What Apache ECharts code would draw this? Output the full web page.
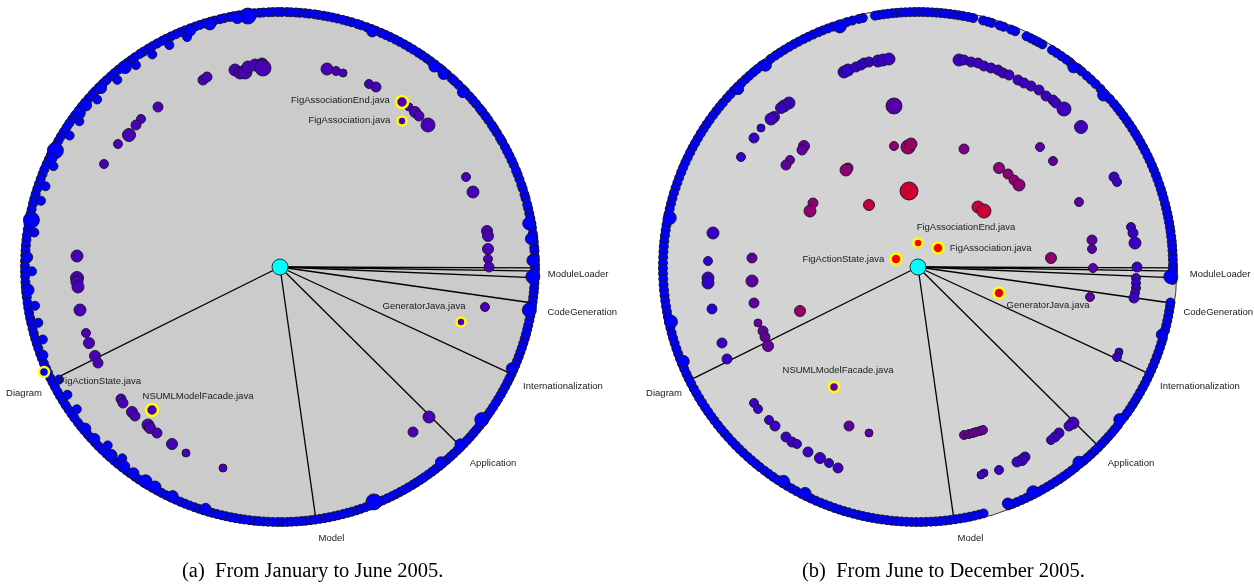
<!DOCTYPE html>
<html>
<head>
<meta charset="utf-8">
<script src="https://cdn.jsdelivr.net/npm/echarts@6/dist/echarts.min.js"></script>
<style>
  html, body { margin: 0; padding: 0; background: #fff; }
  #chart { width: 1254px; height: 588px; }
</style>
</head>
<body>
<div id="chart"></div>
<script>
// ---- package spokes (shared by both snapshots) ----
const spokeNames = ['ModuleLoader', 'CodeGeneration', 'Internationalization', 'Application', 'Model', 'Diagram'];
// direction of each package spoke in degrees, counter-clockwise from east (ModuleLoader has three)
const spokeAngles = [[359.8, 359.1, 357.6], [351.9], [335.2], [315.2], [278.1], [206.4]];

const captions = ['(a)  From January to June 2005.', '(b)  From June to December 2005.'];

// ---- snapshot (a): files resting on the boundary, by angle ----
const rimA = [0.4, 1.5, 2.3, 3.6, 4.4, 5.7, 6.8, 7.5, 8.9, 9.8, 11.0, 12.1, 13.3, 14.2, 15.6, 16.5, 17.9, 18.8, 20.1, 21.3, 22.2, 23.6, 24.7, 25.9, 27.0, 28.1, 29.5, 30.4, 31.8, 32.9, 33.8, 35.2, 36.3, 37.5, 38.4, 39.8, 40.9, 42.0, 43.4, 44.2, 45.6, 46.8, 47.7, 49.1, 50.3, 51.2, 52.6, 53.8, 54.9, 56.1, 57.2, 58.5, 59.6, 60.8, 62.0, 63.1, 64.4, 65.5, 66.6, 67.9, 69.0, 70.1, 71.4, 72.3, 73.7, 74.8, 75.8, 77.0, 78.1, 79.2, 80.2, 81.3, 82.2, 83.4, 84.3, 85.5, 86.4, 87.5, 88.4, 89.6, 90.5, 91.6, 92.5, 93.7, 94.6, 95.8, 96.9, 98.1, 99.2, 100.5, 101.4, 102.7, 103.6, 104.9, 105.8, 107.2, 108.3, 109.4, 110.6, 111.9, 113.0, 114.1, 115.3, 116.6, 117.5, 118.8, 120.0, 121.1, 122.4, 123.3, 124.7, 125.8, 126.9, 128.2, 129.3, 130.5, 131.6, 132.9, 134.0, 135.2, 136.4, 137.3, 138.6, 139.8, 141.0, 142.1, 143.4, 144.5, 145.7, 146.8, 148.0, 149.2, 150.3, 151.5, 152.8, 153.9, 155.0, 156.2, 157.5, 158.6, 159.8, 161.0, 162.1, 163.4, 164.5, 165.6, 166.9, 168.0, 169.3, 170.4, 171.5, 172.8, 173.9, 175.1, 176.3, 177.4, 178.6, 179.8, 181.0, 182.1, 183.4, 184.5, 185.7, 186.8, 188.1, 189.2, 190.4, 191.6, 192.7, 194.0, 195.1, 196.3, 197.5, 198.6, 199.9, 201.0, 202.2, 203.4, 204.5, 205.8, 206.9, 208.1, 209.3, 210.4, 211.7, 212.8, 214.0, 215.2, 216.3, 217.6, 218.7, 219.9, 221.1, 222.2, 223.5, 224.6, 225.8, 227.0, 228.1, 229.4, 230.5, 231.7, 232.9, 234.0, 235.3, 236.4, 237.6, 238.8, 239.9, 241.2, 242.3, 243.5, 244.7, 245.8, 247.0, 248.1, 249.2, 250.4, 251.4, 252.5, 253.6, 254.6, 255.7, 256.8, 257.8, 258.9, 259.9, 261.0, 262.0, 263.1, 264.2, 265.2, 266.3, 267.3, 268.4, 269.5, 270.5, 271.6, 272.6, 273.7, 274.8, 275.8, 276.9, 277.9, 279.0, 280.1, 281.1, 282.2, 283.2, 284.3, 285.4, 286.4, 287.5, 288.5, 289.6, 290.7, 291.7, 292.8, 293.8, 294.9, 296.0, 297.0, 298.1, 299.1, 300.2, 301.3, 302.3, 303.4, 304.4, 305.5, 306.6, 307.6, 308.7, 309.7, 310.8, 311.9, 312.9, 314.0, 315.0, 316.1, 317.2, 318.2, 319.3, 320.3, 321.4, 322.5, 323.5, 324.6, 325.6, 326.7, 327.8, 328.8, 329.9, 330.9, 332.0, 333.1, 334.1, 335.2, 336.2, 337.3, 338.4, 339.4, 340.5, 341.5, 342.6, 343.7, 344.7, 345.8, 346.8, 347.9, 349.0, 350.0, 351.1, 352.1, 353.2, 354.3, 355.3, 356.4, 357.4, 358.5, 359.5];
// boundary files sitting a little inside the edge
const rimAInset = [112, 116.5, 121, 125.5, 131, 137.5, 144, 148, 156, 161, 164.5, 172, 181, 189, 193, 197, 207, 211, 215, 226, 230.5];
// heavier boundary files: [angle, weight]
const rimABig = [[1.5, 3], [6.4, 3], [9.9, 3.5], [43.7, 2.5], [49.7, 2.5], [52.4, 2.5], [68.6, 2.5], [97.3, 5], [99.7, 3], [106.1, 3], [110.8, 2.5], [127.8, 3.5], [135, 2.5], [140.2, 3], [142.5, 3], [152.6, 5], [154.5, 2.5], [169.3, 5], [177.8, 2.5], [185.2, 3], [200.4, 2], [219.7, 2.5], [222.8, 2.5], [228.1, 3], [232, 2.5], [234.6, 2.5], [237.9, 3.5], [240.4, 3], [244.9, 2.5], [252.9, 2.5], [291.8, 5], [309.5, 2.5], [315.5, 2.5], [322.9, 4], [336.4, 2.5], [350.2, 4], [357.8, 4]];
// active files: [x, y, weight, heat] in layout units (disk radius 259)
const innerA = [[-77, 187, 2, .29], [-73, 190, 2, .29], [-45, 197, 3, .29], [-40, 194, 3, .29], [-35, 195, 4, .29], [-32, 200, 3, .29], [-25, 202, 3, .29], [-18, 203, 3, .29], [-17, 199, 5, .29], [-122, 160, 2, .29], [-139, 148, 1.5, .29], [-144, 142, 2, .29], [-151, 132, 3.5, .29], [-162, 123, 1.5, .29], [-176, 103, 1.5, .29], [-203, 11, 3, .29], [-203, -11, 3.5, .29], [-203, -15, 3, .29], [-202, -20, 3, .29], [-200, -43, 3, .29], [-194, -66, 1.5, .29], [-191, -76, 2.5, .29], [-185, -89, 2.5, .29], [-182, -96, 2, .29], [-159, -132, 2, .29], [-157, -136, 2, .29], [-148, -145, 2.5, .29], [-145, -149, 2, .29], [-132, -158, 3, .29], [-130, -161, 2.5, .29], [-123, -166, 2, .29], [-108, -177, 2.5, .29], [-94, -186, 1, .29], [-57, -201, 1, .29], [47, 198, 3, .29], [56, 196, 1.5, .29], [63, 194, 1, .29], [89, 183, 1.5, .29], [96, 180, 2, .29], [129, 160, 1, .29], [135, 155, 2.5, .29], [139, 151, 2, .29], [148, 142, 4, .29], [186, 90, 1.5, .29], [193, 75, 3, .29], [207, 36, 2.5, .29], [208, 31, 2.5, .29], [208, 18, 2.5, .29], [208, 8, 1.5, .29], [209, 0, 2, .29], [205, -40, 1.5, .3], [149, -150, 3, .29], [133, -165, 2, .29]];
// highlighted files: [name, x, y, weight, heat]
const markedA = [['FigAssociationEnd.java', 122, 165, 3, .29], ['FigAssociation.java', 122, 146, 1.5, .29], ['GeneratorJava.java', 181, -55, 1.5, .3], ['NSUMLModelFacade.java', -128, -143, 3, .29], ['FigActionState.java', -236, -105, 2, 0]];

// ---- snapshot (b) ----
const rimB = [0.5, 1.6, 2.6, 3.7, 4.8, 5.8, 6.9, 8.0, 9.0, 10.1, 11.2, 12.2, 13.3, 14.4, 15.6, 16.7, 17.8, 18.9, 20.1, 21.2, 22.4, 23.5, 24.7, 25.8, 27.0, 28.1, 29.3, 30.5, 31.6, 32.8, 34.0, 35.1, 36.3, 37.5, 38.6, 39.8, 41.2, 44.3, 45.9, 47.3, 48.6, 50.1, 51.2, 53.4, 54.5, 55.8, 57.1, 58.3, 60.8, 61.8, 62.7, 63.7, 64.8, 67.6, 68.6, 70.4, 71.3, 73.2, 74.1, 75.2, 77.5, 78.6, 79.8, 80.8, 81.8, 82.8, 83.8, 84.8, 85.8, 86.8, 87.8, 88.8, 89.8, 90.8, 91.8, 92.8, 93.8, 94.8, 95.8, 96.8, 97.8, 98.8, 99.7, 102.5, 103.4, 104.9, 106.2, 109.5, 110.7, 111.9, 113.0, 114.3, 115.5, 116.6, 117.9, 119.1, 120.3, 121.6, 122.8, 124.0, 125.3, 127.8, 129.1, 130.2, 131.4, 132.6, 133.8, 135.0, 136.2, 137.4, 138.6, 139.9, 141.1, 142.3, 143.5, 144.8, 146.0, 147.2, 148.4, 149.7, 150.9, 152.1, 153.3, 154.6, 155.8, 157.0, 158.2, 159.5, 160.7, 161.9, 163.1, 164.4, 165.6, 166.8, 168.0, 169.3, 170.5, 171.7, 172.9, 174.2, 175.4, 176.6, 177.8, 179.1, 180.3, 181.5, 182.7, 184.0, 185.2, 186.4, 187.6, 188.9, 190.1, 191.3, 192.5, 193.8, 195.0, 196.2, 197.4, 198.7, 199.9, 201.1, 202.3, 203.6, 204.8, 206.0, 207.2, 208.5, 209.7, 210.9, 212.1, 213.4, 214.6, 215.8, 217.0, 218.3, 219.5, 220.7, 221.9, 223.2, 224.4, 225.6, 226.8, 228.1, 229.3, 230.5, 231.7, 233.0, 234.2, 235.4, 236.6, 237.9, 239.1, 240.3, 241.5, 242.8, 244.0, 245.2, 246.4, 247.6, 248.7, 249.8, 250.9, 252.0, 253.1, 254.2, 255.3, 256.4, 257.5, 258.6, 259.7, 260.8, 261.9, 263.0, 264.1, 265.2, 266.3, 267.4, 268.5, 269.6, 270.7, 271.8, 272.9, 274.0, 275.1, 276.2, 277.3, 278.4, 279.5, 280.6, 281.7, 282.8, 283.9, 284.9, 290.8, 291.8, 292.9, 294.0, 295.1, 296.2, 298.2, 299.3, 300.4, 301.5, 302.6, 303.7, 304.8, 305.9, 307.0, 308.1, 310.6, 311.7, 312.8, 313.9, 315.0, 316.1, 317.2, 318.3, 319.4, 320.5, 321.6, 324.0, 325.1, 326.2, 327.3, 328.4, 329.5, 330.6, 331.7, 332.8, 333.9, 335.0, 336.1, 337.2, 338.3, 339.4, 340.5, 341.6, 342.7, 343.7, 345.6, 346.7, 347.8, 348.9, 350.0, 351.1, 352.0, 357.1, 358.9, 359.7];
const rimBInset = [];
const rimBBig = [[42.8, 3], [52.1, 2.5], [108, 3.5], [127.1, 3], [135.3, 2.5], [168.8, 3.5], [192.5, 3.5], [201.9, 3], [237.9, 3], [243.5, 3], [290.8, 2.5], [297.1, 3.5], [309.5, 3], [322.9, 3], [344.5, 2.5], [357.8, 4]];
const innerB = [[-74, 195, 3, .2], [-70, 197, 3, .2], [-62, 200, 2, .21], [-57, 202, 2, .21], [-54, 204, 2, .21], [-49, 205, 2, .22], [-40, 206, 3, .22], [-35, 207, 3, .22], [-29, 208, 3, .23],
  [41, 207, 3, .23], [46, 207, 2, .23], [53, 205, 2, .23], [60, 204, 2, .24], [66, 201, 2, .24], [73, 199, 2, .24], [80, 197, 2, .24], [85, 194, 2, .24], [91, 192, 2, .24], [100, 187, 2, .24], [106, 184, 2, .24], [113, 181, 2, .24], [121, 177, 2, .24], [128, 171, 2, .24], [135, 167, 2, .24], [138, 164, 2, .24], [146, 158, 4, .25], [163, 140, 3.5, .25],
  [-129, 164, 3, .24], [-134, 161, 3, .24], [-137, 159, 2.5, .24], [-144, 150, 2.5, .24], [-147, 148, 3, .24], [-157, 139, 1, .22], [-164, 129, 2, .22], [-177, 110, 1.5, .22],
  [-114, 121, 2.5, .38], [-116, 117, 2, .38], [-128, 107, 1.5, .38], [-132, 102, 2, .38],
  [-24, 161, 5, .35], [-24, 121, 1.5, .56], [-10, 120, 4, .6], [-7, 123, 3, .6],
  [-70, 99, 2, .56], [-72, 97, 3, .56], [-105, 64, 2, .56], [-108, 56, 3, .56], [-49, 62, 2.5, .78], [-9, 76, 6, .8],
  [-205, 34, 3, .22], [-210, 6, 1.5, .2], [-166, 9, 2, .38],
  [-210, -11, 3, .22], [-210, -16, 3, .22], [-206, -42, 2, .15], [-196, -76, 2, .22], [-191, -92, 2, .22],
  [-166, -14, 3, .38], [-164, -36, 2, .38], [-118, -44, 2.5, .6],
  [-160, -56, 1, .4], [-155, -64, 2, .4], [-153, -70, 2, .4], [-150, -79, 2.5, .4],
  [-164, -136, 1.5, .23], [-160, -142, 1.5, .23], [-149, -153, 1.5, .23], [-143, -159, 2, .23], [-132, -170, 2, .23], [-126, -175, 2, .23], [-121, -177, 1.5, .23], [-110, -185, 2, .23], [-98, -191, 2.5, .23], [-89, -196, 1.5, .23], [-80, -201, 2, .24],
  [-69, -159, 2, .38], [-49, -166, 1, .38],
  [46, 118, 2, .5], [122, 120, 1.5, .36], [135, 106, 1.5, .36],
  [81, 99, 2.5, .56], [90, 93, 2, .56], [96, 87, 2, .56], [101, 82, 3, .56],
  [60, 60, 3, .8], [66, 56, 4, .8], [161, 65, 1.5, .36],
  [196, 90, 2, .24], [199, 85, 1.5, .24], [213, 40, 1.5, .24], [215, 34, 2, .24], [217, 24, 3, .24],
  [174, 27, 2, .36], [174, 18, 1.5, .36], [133, 9, 2.5, .56], [175, -1, 1.5, .36],
  [219, 0, 2, .24], [218, -11, 1.5, .24], [218, -16, 1.5, .24], [218, -21, 1.5, .24], [217, -26, 1.5, .24], [216, -31, 2, .24],
  [172, -30, 1.5, .38], [201, -85, 1, .24], [199, -90, 1.5, .24],
  [155, -156, 3, .25], [151, -159, 2, .25], [141, -166, 2, .24], [137, -170, 2, .24], [133, -173, 1.5, .24],
  [46, -168, 1.5, .42], [51, -167, 1.5, .42], [55, -166, 1.5, .42], [58, -165, 1.5, .42], [62, -164, 1.5, .42], [65, -163, 1.5, .42],
  [107, -190, 2, .24], [104, -193, 2.5, .24], [99, -195, 2, .24], [81, -203, 1.5, .24], [66, -206, 1, .24], [63, -208, 1, .24]];
const markedB = [['FigAssociationEnd.java', 0, 24, 1.5, 1], ['FigAssociation.java', 20, 19, 2.5, 1], ['FigActionState.java', -22, 8, 2.5, 1], ['GeneratorJava.java', 81, -26, 2.5, 0.88], ['NSUMLModelFacade.java', -84, -120, 2, .38]];

// ---- layout and styling ----
const R = 259;        // disk radius in layout units (1 unit = 1 px)
const RIM_R = 255;    // where boundary files rest
const INSET_R = 248;
const LABEL_FONT = { fontFamily: 'Liberation Sans', fontSize: 9.5, color: '#1a1a1a', opacity: 1 };
const sizeOf = v => 6 + 2 * v[2];

const panels = [
  {
    center: [280, 267], disk: '#cbcbcb', rim: rimA, inset: rimAInset, big: rimABig, inner: innerA, marked: markedA,
    captionX: 182,
    // label offsets of the spoke names: [dx, dy, align]
    spokeLabel: [[9, -3, 'left'], [11, 9, 'left'], [8, 11, 'left'], [6, 14, 'left'], [2, 15, 'left'], [-6, 11, 'right']],
    // label placement of the highlighted files
    markLabel: [['left', 0, -2], ['left', -1, -1], ['top', -37, 0], ['top', 46, 4], ['right', 4, 9]]
  },
  {
    center: [918, 267], disk: '#d3d3d3', rim: rimB, inset: rimBInset, big: rimBBig, inner: innerB, marked: markedB,
    captionX: 802,
    spokeLabel: [[13, -3, 'left'], [9, 9, 'left'], [7, 11, 'left'], [6, 14, 'left'], [3, 15, 'left'], [-4, 11, 'right']],
    markLabel: [['top', 48, 0], ['right', 0, 0], ['left', 0, 0], ['bottom', 49, -4], ['top', 4, 0]]
  }
];

const series = [];
const dotSeries = [];
const dotStyle = { borderColor: '#14142e', borderWidth: 0.9, opacity: 1 };

panels.forEach((p, i) => {
  // spokes from the hub to the disk edge
  spokeAngles.forEach(group => group.forEach(a => {
    series.push({
      type: 'line', coordinateSystem: 'polar', polarIndex: i, silent: true,
      data: [[0, a], [R, a]], symbol: 'none', z: 2,
      lineStyle: { color: '#000', width: 1.3, opacity: 1 }
    });
  }));
  // boundary files
  const rimData = p.rim.map(a => [RIM_R, a, 1.5, 0])
    .concat(p.inset.map(a => [INSET_R, a, 1.5, 0]))
    .concat(p.big.map(b => [RIM_R - 2, b[0], b[1], 0]));
  dotSeries.push(series.length);
  series.push({
    type: 'scatter', coordinateSystem: 'polar', polarIndex: i, silent: true, z: 3,
    data: rimData, symbolSize: sizeOf, itemStyle: dotStyle
  });
  // active files inside the disk
  dotSeries.push(series.length);
  series.push({
    type: 'scatter', xAxisIndex: i, yAxisIndex: i, silent: true, z: 4,
    data: p.inner, symbolSize: sizeOf, itemStyle: dotStyle
  });
  // highlighted files with their names
  dotSeries.push(series.length);
  series.push({
    type: 'scatter', xAxisIndex: i, yAxisIndex: i, silent: true, z: 6,
    symbolSize: sizeOf,
    itemStyle: { borderColor: '#ffff00', borderWidth: 2.5, opacity: 1 },
    data: p.marked.map((m, k) => ({
      value: [m[1], m[2], m[3], m[4]],
      name: m[0],
      label: {
        show: true, formatter: m[0], position: p.markLabel[k][0], distance: 5,
        offset: [p.markLabel[k][1], p.markLabel[k][2]], ...LABEL_FONT
      }
    }))
  });
  // hub
  series.push({
    type: 'scatter', xAxisIndex: i, yAxisIndex: i, silent: true, z: 7,
    data: [[0, 0]], symbolSize: 16,
    itemStyle: { color: '#00ffff', borderColor: '#333', borderWidth: 1, opacity: 1 }
  });
  // package names at the end of their spokes
  series.push({
    type: 'scatter', coordinateSystem: 'polar', polarIndex: i, silent: true, z: 8,
    symbolSize: 1, itemStyle: { color: 'rgba(0,0,0,0)', opacity: 1 },
    data: spokeAngles.map((g, k) => ({
      value: [R, g[g.length - 1]],
      label: {
        show: true, formatter: spokeNames[k], position: 'inside',
        align: p.spokeLabel[k][2], verticalAlign: 'middle',
        offset: [p.spokeLabel[k][0], p.spokeLabel[k][1]], ...LABEL_FONT
      }
    }))
  });
});

const option = {
  animation: false,
  backgroundColor: '#ffffff',
  polar: panels.map(p => ({ center: p.center, radius: R })),
  angleAxis: panels.map((p, i) => ({
    polarIndex: i, type: 'value', min: 0, max: 360, startAngle: 0, clockwise: false,
    axisLine: { show: true, lineStyle: { color: '#3a3a3a', width: 1 } },
    axisTick: { show: false }, axisLabel: { show: false }, splitLine: { show: false }
  })),
  radiusAxis: panels.map((p, i) => ({
    polarIndex: i, type: 'value', min: 0, max: R, interval: R,
    axisLine: { show: false }, axisTick: { show: false }, axisLabel: { show: false },
    splitLine: { show: false },
    splitArea: { show: true, areaStyle: { color: [p.disk], opacity: 1 } }
  })),
  grid: panels.map(p => ({
    left: p.center[0] - R, top: p.center[1] - R, width: 2 * R, height: 2 * R
  })),
  xAxis: panels.map((p, i) => ({ gridIndex: i, type: 'value', min: -R, max: R, show: false })),
  yAxis: panels.map((p, i) => ({ gridIndex: i, type: 'value', min: -R, max: R, show: false })),
  visualMap: {
    show: false, type: 'continuous', min: 0, max: 1, dimension: 3,
    seriesIndex: dotSeries,
    inRange: { color: ['#0000ff', '#ff0000'], opacity: 1 }
  },
  graphic: panels.map((p, i) => ({
    type: 'text', left: p.captionX, top: 561,
    style: { text: captions[i], font: '20.5px "Liberation Serif"', fill: '#000' }
  })),
  series: series
};

const chart = echarts.init(document.getElementById('chart'), null, { renderer: 'canvas' });
chart.setOption(option);
</script>
</body>
</html>
